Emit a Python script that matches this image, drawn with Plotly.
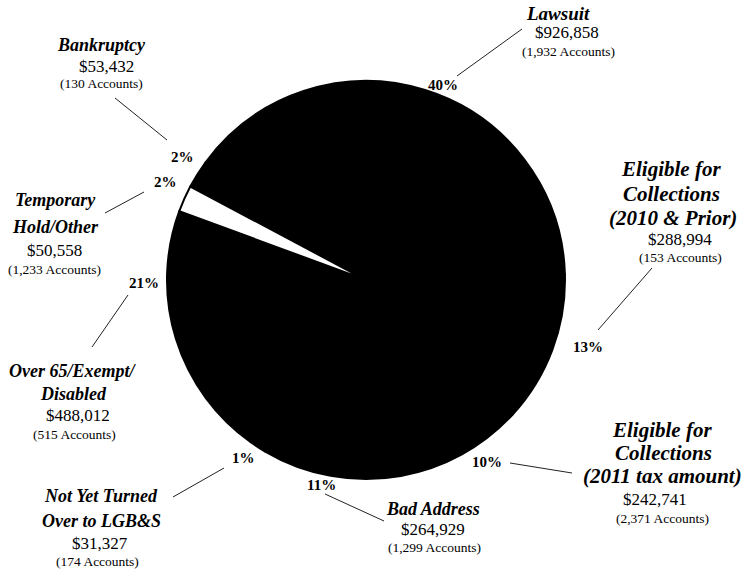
import plotly.graph_objects as go

W, H = 748, 572

# ---- data (clockwise from the Bankruptcy slice) ----
categories = ["Bankruptcy", "Lawsuit", "Eligible for Collections (2010 & Prior)",
              "Eligible for Collections (2011 tax amount)", "Bad Address",
              "Not Yet Turned Over to LGB&S", "Over 65/Exempt/Disabled",
              "Temporary Hold/Other"]
amounts = [53432, 926858, 288994, 242741, 264929, 31327, 488012, 50558]
accounts = [130, 1932, 153, 2371, 1299, 174, 515, 1233]
pct_labels = [2, 40, 13, 10, 11, 1, 21, 2]
title_lines = [["Bankruptcy"], ["Lawsuit"],
               ["Eligible for", "Collections", "(2010 & Prior)"],
               ["Eligible for", "Collections", "(2011 tax amount)"],
               ["Bad Address"], ["Not Yet Turned", "Over to LGB&S"],
               ["Over 65/Exempt/", "Disabled"], ["Temporary", "Hold/Other"]]
slice_colors = ["black"] * 7 + ["white"]

FONT = "Liberation Serif"

# ---- layout helpers (pixel positions of the text blocks) ----
def px(x):
    return x / W

def py(y):
    return 1 - y / H

layout_info = [
    dict(ts=18, tx=[102], tb=[51], ax=106, ab=72, cx=102, cb=88,
         px_=182, pb=162, line=(115, 98, 167, 140)),
    dict(ts=19, tx=[558], tb=[20], ax=567, ab=38, cx=568, cb=56,
         px_=443, pb=90, line=(457, 76, 522, 29)),
    dict(ts=21, tx=[671, 671, 673], tb=[176, 201, 225], ax=680, ab=245, cx=680, cb=262,
         px_=588, pb=352, line=(652, 268, 598, 330)),
    dict(ts=21, tx=[662, 663, 662], tb=[437, 460, 483], ax=655, ab=505, cx=662, cb=523,
         px_=487, pb=467, line=(510, 463, 572, 473)),
    dict(ts=18, tx=[433], tb=[515], ax=433, ab=535, cx=434, cb=552,
         px_=321, pb=490, line=(325, 494, 384, 521)),
    dict(ts=18, tx=[101, 102], tb=[502, 527], ax=100, ab=549, cx=97, cb=566,
         px_=243, pb=463, line=(173, 497, 224, 468)),
    dict(ts=18, tx=[72, 73], tb=[377, 400], ax=78, ab=421, cx=74, cb=439,
         px_=144, pb=288, line=(128, 295, 92, 347)),
    dict(ts=18, tx=[55, 56], tb=[206, 233], ax=54, ab=256, cx=54, cb=274,
         px_=165, pb=187, line=(105, 213, 144, 192)),
]

K = 0.34  # baseline -> middle offset (fraction of font size)

annotations = []
shapes = []


def add_text(text, cx, baseline, size, weight="normal", style="normal"):
    annotations.append(dict(
        text=text, x=px(cx), y=py(baseline - K * size), xref="paper", yref="paper",
        xanchor="center", yanchor="middle", showarrow=False, borderpad=0,
        font=dict(family=FONT, size=size, color="black", weight=weight, style=style)))


for i, info in enumerate(layout_info):
    for line, cx, b in zip(title_lines[i], info["tx"], info["tb"]):
        add_text(line, cx, b, info["ts"], weight="bold", style="italic")
    add_text(f"${amounts[i]:,}", info["ax"], info["ab"], 17)
    add_text(f"({accounts[i]:,} Accounts)", info["cx"], info["cb"], 13.5)
    add_text(f"{pct_labels[i]}%", info["px_"], info["pb"], 15, weight="bold")
    x0, y0, x1, y1 = info["line"]
    shapes.append(dict(type="line", xref="paper", yref="paper",
                       x0=px(x0), y0=py(y0), x1=px(x1), y1=py(y1),
                       line=dict(color="#222222", width=1)))

# pie geometry: centre (366, 280) px, radius 199 px
CX, CY, R = 366, 280, 199

fig = go.Figure(go.Pie(
    labels=categories,
    values=amounts,
    sort=False,
    direction="clockwise",
    rotation=-62,
    marker=dict(colors=slice_colors, line=dict(color="black", width=2)),
    textinfo="none",
    hovertemplate="%{label}<br>$%{value:,}<extra></extra>",
    domain=dict(x=[px(CX - R), px(CX + R)], y=[py(CY + R), py(CY - R)]),
))

fig.update_layout(
    width=W, height=H,
    margin=dict(l=0, r=0, t=0, b=0),
    paper_bgcolor="white", plot_bgcolor="white",
    showlegend=False,
    annotations=annotations,
    shapes=shapes,
)

fig.write_html("out.html")
